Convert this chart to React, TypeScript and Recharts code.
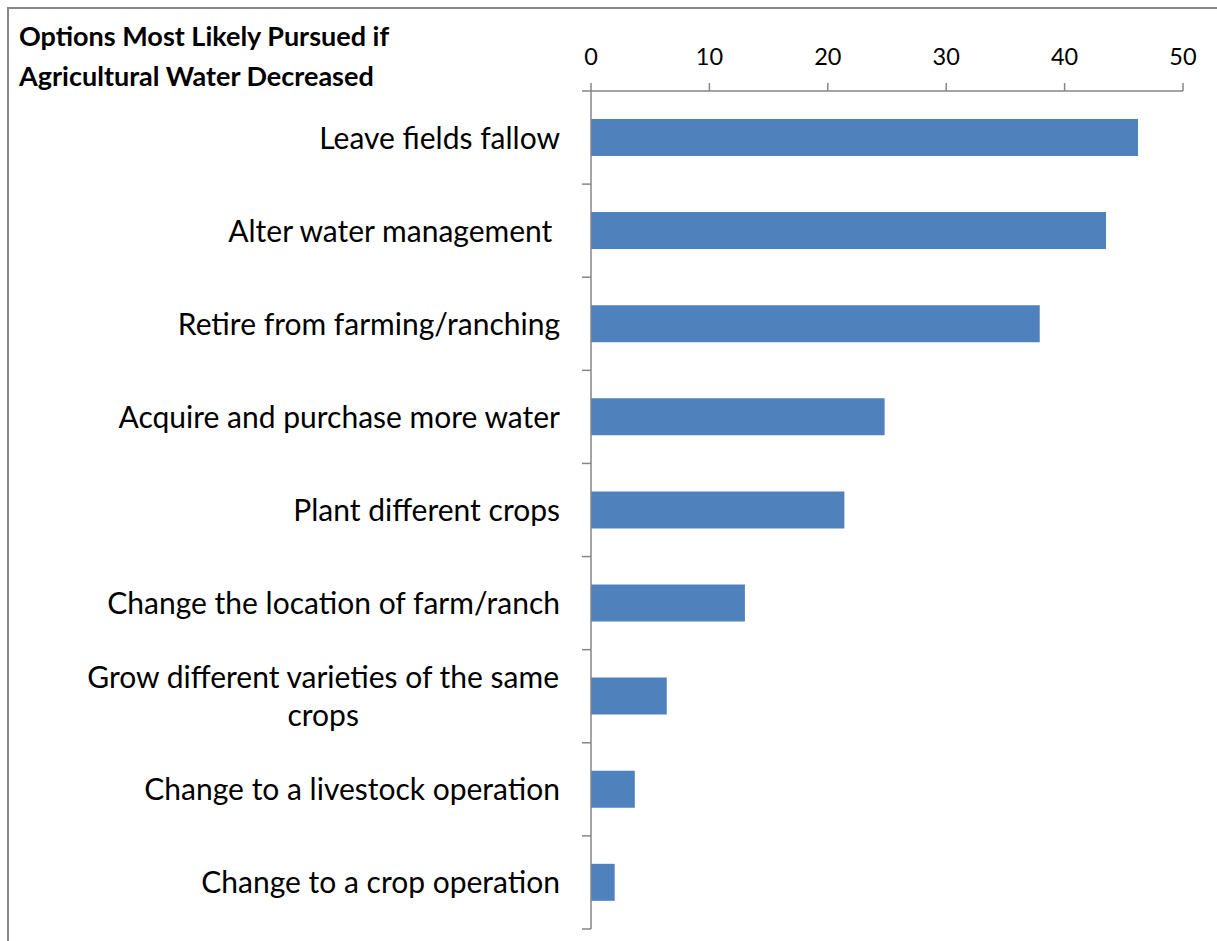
import React from "react";
import { BarChart, Bar, XAxis, YAxis } from "recharts";

const categories: string[] = [
  "Leave fields fallow",
  "Alter water management ",
  "Retire from farming/ranching",
  "Acquire and purchase more water",
  "Plant different crops",
  "Change the location of farm/ranch",
  "Grow different varieties of the same\ncrops",
  "Change to a livestock operation",
  "Change to a crop operation",
];
const values: number[] = [46.2, 43.5, 37.9, 24.8, 21.4, 13.0, 6.4, 3.7, 2.0];
const xTicks: number[] = [0, 10, 20, 30, 40, 50];
const titleLines: string[] = ["Options Most Likely Pursued if", "Agricultural Water Decreased"];

const data = categories.map((c, i) => ({ name: c, value: values[i] }));

const W = 1217;
const H = 941;
const PLOT_LEFT = 591;
const PLOT_TOP = 91;
const PLOT_RIGHT = 1183;
const PLOT_BOTTOM = 929;
const BAND = (PLOT_BOTTOM - PLOT_TOP) / categories.length;
const FONT = "Lato, 'Open Sans', sans-serif";
const FONT_SIZE = 30;
const TICK_FONT_SIZE = 23.5;
const AXIS_COLOR = "#868686";
const TICK_SIZE = 9;
const TICK_MARGIN = 22;

let measureCtx: CanvasRenderingContext2D | null = null;
function measure(text: string): number {
  if (!measureCtx) {
    const c = document.createElement("canvas");
    measureCtx = c.getContext("2d");
  }
  if (!measureCtx) return text.length * FONT_SIZE * 0.5;
  measureCtx.font = `${FONT_SIZE}px Lato`;
  return measureCtx.measureText(text).width;
}

const CategoryTick = (props: any) => {
  const { x, y, payload, index } = props;
  const lines: string[] = String(payload.value).split("\n");
  const axisX = x + TICK_SIZE + TICK_MARGIN;
  const lineH = 38;
  const marks = [
    <line key="t" x1={axisX - TICK_SIZE} x2={axisX} y1={y - BAND / 2} y2={y - BAND / 2} stroke={AXIS_COLOR} strokeWidth={1.5} />,
  ];
  if (index === categories.length - 1) {
    marks.push(
      <line key="b" x1={axisX - TICK_SIZE} x2={axisX} y1={y + BAND / 2} y2={y + BAND / 2} stroke={AXIS_COLOR} strokeWidth={1.5} />
    );
  }
  let texts;
  if (lines.length === 1) {
    texts = (
      <text x={x} y={y - 1} textAnchor="end" dominantBaseline="central" fontFamily={FONT} fontSize={FONT_SIZE} fill="#000" style={{ whiteSpace: "pre" }}>
        {lines[0]}
      </text>
    );
  } else {
    const maxW = Math.max(...lines.map(measure));
    const cx = x - maxW / 2;
    const startY = y - 1 - ((lines.length - 1) * lineH) / 2;
    texts = lines.map((l, i) => (
      <text key={i} x={cx} y={startY + i * lineH} textAnchor="middle" dominantBaseline="central" fontFamily={FONT} fontSize={FONT_SIZE} fill="#000">
        {l}
      </text>
    ));
  }
  return (
    <g>
      {marks}
      {texts}
    </g>
  );
};

export default function App() {
  return (
    <div style={{ position: "fixed", left: 0, top: 0, width: W, height: H, overflow: "hidden", background: "#fff" }}>
      <div
        style={{
          position: "absolute",
          left: 7,
          top: 7,
          width: 1400,
          height: 1200,
          border: "2px solid #878787",
          boxSizing: "border-box",
        }}
      />
      {titleLines.map((t, i) => (
        <div
          key={i}
          style={{
            position: "absolute",
            left: 19,
            top: 21 + i * 40,
            fontFamily: FONT,
            fontWeight: 700,
            fontSize: 27,
            lineHeight: "30px",
            color: "#000",
            whiteSpace: "nowrap",
          }}
        >
          {t}
        </div>
      ))}
      <div style={{ position: "absolute", left: 0, top: 0 }}>
        <BarChart
          width={W}
          height={H}
          data={data}
          layout="vertical"
          barCategoryGap="30%"
          margin={{ top: 0, right: W - PLOT_RIGHT, bottom: H - PLOT_BOTTOM, left: 0 }}
        >
          <XAxis
            type="number"
            orientation="top"
            domain={[0, 50]}
            ticks={xTicks}
            interval={0}
            height={PLOT_TOP}
            tickSize={8}
            tickMargin={18}
            axisLine={{ stroke: AXIS_COLOR, strokeWidth: 1.5 }}
            tickLine={{ stroke: AXIS_COLOR, strokeWidth: 1.5 }}
            tick={{ fill: "#000", fontFamily: FONT, fontSize: TICK_FONT_SIZE }}
          />
          <YAxis
            type="category"
            dataKey="name"
            width={PLOT_LEFT}
            interval={0}
            tickSize={TICK_SIZE}
            tickMargin={TICK_MARGIN}
            tickLine={false}
            axisLine={{ stroke: AXIS_COLOR, strokeWidth: 1.5 }}
            tick={<CategoryTick />}
          />
          <Bar dataKey="value" fill="#4F81BD" isAnimationActive={false} />
        </BarChart>
      </div>
    </div>
  );
}
